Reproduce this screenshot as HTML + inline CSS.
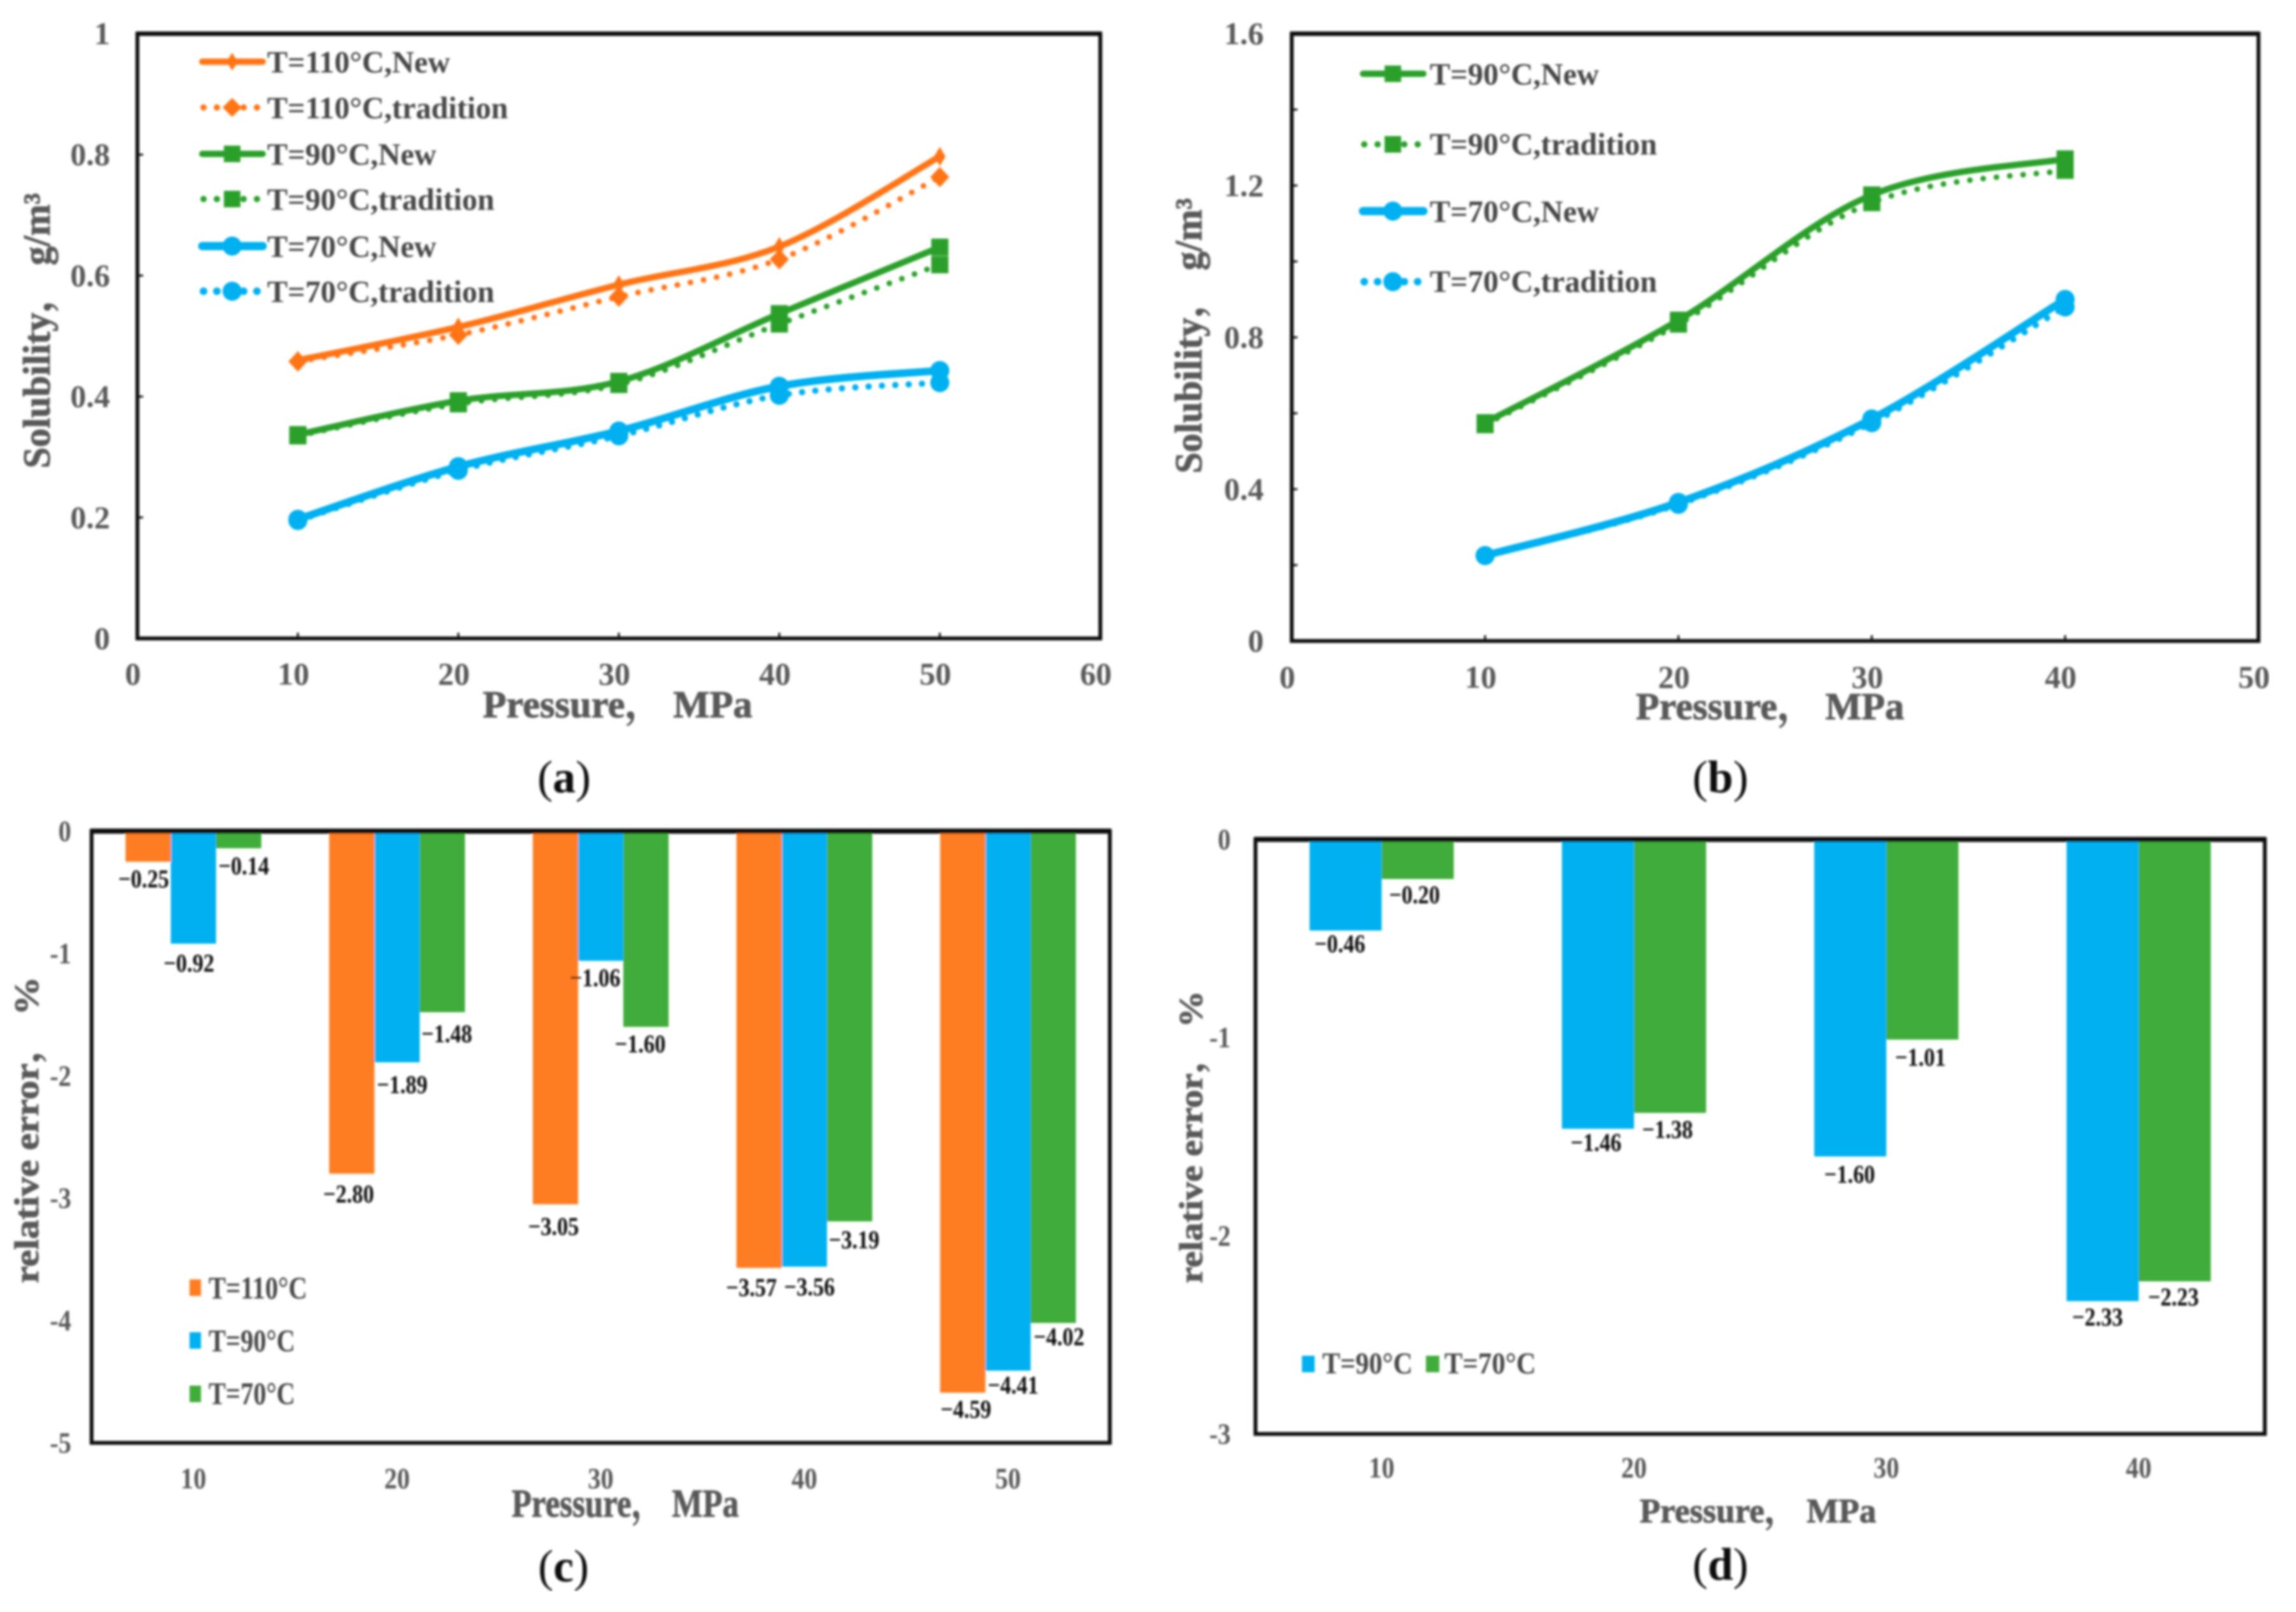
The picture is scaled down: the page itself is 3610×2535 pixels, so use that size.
<!DOCTYPE html>
<html lang="en">
<head>
<meta charset="utf-8">
<title>Solubility and relative error versus pressure</title>
<style>
html,body{margin:0;padding:0;background:#fff}
svg{display:block}
text{font-family:"Liberation Serif","Noto Serif CJK SC",serif;font-weight:bold;fill:#595959}
.leg{fill:#474747;font-size:48.4px}
.cap{fill:#111;font-weight:normal;font-size:72px;text-anchor:middle}
.cap tspan{font-weight:bold}
.ttl{font-size:60px;text-anchor:middle;stroke:#595959;stroke-width:1}
</style>
</head>
<body>
<svg id="figure" xmlns="http://www.w3.org/2000/svg" width="3610" height="2535" viewBox="0 0 3610 2535">
<defs><filter id="soft" x="0" y="0" width="100%" height="100%"><feGaussianBlur stdDeviation="1.8"/></filter></defs>
<rect width="3610" height="2535" fill="#fff"/>
<g filter="url(#soft)">

<g id="panel-a"></g>
<g id="panel-b"></g>
<g id="panel-c"></g>
<g id="panel-d"></g>

<!-- Panel A static text and legend -->
<text class="ttl" x="971" y="1128" textLength="424" lengthAdjust="spacingAndGlyphs">Pressure，&#160;MPa</text>
<text class="ttl" transform="translate(78,520) rotate(-90)" textLength="433" lengthAdjust="spacingAndGlyphs">Solubility，&#160;g/m³</text>
<g>
  <g><line x1="318" x2="413" y1="97" y2="97" stroke="#ff7519" stroke-width="10" stroke-linecap="round"/><polygon points="365,83 374,97 365,111 356,97" fill="#ff7519"/><text class="leg" x="420" y="114">T=110°C,New</text></g>
  <g><line x1="320" x2="412" y1="169" y2="169" stroke="#ff7519" stroke-width="10" stroke-linecap="round" stroke-dasharray="0 21"/><polygon points="365,154 380,169 365,184 350,169" fill="#ff7519"/><text class="leg" x="420" y="186">T=110°C,tradition</text></g>
  <g><line x1="318" x2="413" y1="242" y2="242" stroke="#2ca02c" stroke-width="10" stroke-linecap="round"/><rect x="352" y="229" width="26" height="26" fill="#2ca02c"/><text class="leg" x="420" y="259">T=90°C,New</text></g>
  <g><line x1="320" x2="412" y1="313" y2="313" stroke="#2ca02c" stroke-width="10" stroke-linecap="round" stroke-dasharray="0 21"/><rect x="352" y="300" width="26" height="26" fill="#2ca02c"/><text class="leg" x="420" y="330">T=90°C,tradition</text></g>
  <g><line x1="318" x2="413" y1="387" y2="387" stroke="#00b0f0" stroke-width="13" stroke-linecap="round"/><circle cx="365" cy="387" r="15" fill="#00b0f0"/><text class="leg" x="420" y="404">T=70°C,New</text></g>
  <g><line x1="320" x2="412" y1="458" y2="458" stroke="#00b0f0" stroke-width="12" stroke-linecap="round" stroke-dasharray="0 21"/><circle cx="365" cy="458" r="15" fill="#00b0f0"/><text class="leg" x="420" y="475">T=70°C,tradition</text></g>
</g>
<text class="cap" x="887" y="1246">(<tspan>a</tspan>)</text>

<!-- Panel B static text and legend -->
<text class="ttl" x="2783" y="1131" textLength="422" lengthAdjust="spacingAndGlyphs">Pressure，&#160;MPa</text>
<text class="ttl" transform="translate(1889,528) rotate(-90)" textLength="433" lengthAdjust="spacingAndGlyphs">Solubility，&#160;g/m³</text>
<g>
  <g><line x1="2143" x2="2238" y1="116" y2="116" stroke="#2ca02c" stroke-width="10" stroke-linecap="round"/><rect x="2177" y="103" width="26" height="26" fill="#2ca02c"/><text class="leg" x="2248" y="133">T=90°C,New</text></g>
  <g><line x1="2145" x2="2238" y1="227" y2="227" stroke="#2ca02c" stroke-width="10" stroke-linecap="round" stroke-dasharray="0 21"/><rect x="2177" y="214" width="26" height="26" fill="#2ca02c"/><text class="leg" x="2248" y="243">T=90°C,tradition</text></g>
  <g><line x1="2143" x2="2238" y1="332" y2="332" stroke="#00b0f0" stroke-width="13" stroke-linecap="round"/><circle cx="2190" cy="332" r="15" fill="#00b0f0"/><text class="leg" x="2248" y="349">T=70°C,New</text></g>
  <g><line x1="2145" x2="2238" y1="443" y2="443" stroke="#00b0f0" stroke-width="12" stroke-linecap="round" stroke-dasharray="0 21"/><circle cx="2190" cy="443" r="15" fill="#00b0f0"/><text class="leg" x="2248" y="459">T=70°C,tradition</text></g>
</g>
<text class="cap" x="2705" y="1246">(<tspan>b</tspan>)</text>

<!-- Panel C static text and legend -->
<text class="ttl" x="983" y="2385" style="font-size:62px" textLength="357" lengthAdjust="spacingAndGlyphs">Pressure，&#160;MPa</text>
<text class="ttl" transform="translate(60,1777) rotate(-90)" style="font-size:54px" textLength="482" lengthAdjust="spacingAndGlyphs">relative error，&#160;%</text>
<g>
  <g><rect x="298" y="2012" width="18" height="26" fill="#fe7d23"/><text class="leg" x="328" y="2042" textLength="155" lengthAdjust="spacingAndGlyphs" style="font-size:50px">T=110°C</text></g>
  <g><rect x="298" y="2095" width="18" height="26" fill="#00b0f0"/><text class="leg" x="328" y="2125" textLength="136" lengthAdjust="spacingAndGlyphs" style="font-size:50px">T=90°C</text></g>
  <g><rect x="298" y="2179" width="18" height="26" fill="#41ac3a"/><text class="leg" x="328" y="2208" textLength="136" lengthAdjust="spacingAndGlyphs" style="font-size:50px">T=70°C</text></g>
</g>
<text class="cap" x="886" y="2487">(<tspan>c</tspan>)</text>

<!-- Panel D static text and legend -->
<text class="ttl" x="2764" y="2394" style="font-size:54px" textLength="372" lengthAdjust="spacingAndGlyphs">Pressure，&#160;MPa</text>
<text class="ttl" transform="translate(1890,1788) rotate(-90)" style="font-size:52px" textLength="460" lengthAdjust="spacingAndGlyphs">relative error，&#160;%</text>
<g>
  <g><rect x="2047" y="2132" width="20" height="26" fill="#00b0f0"/><text class="leg" x="2079" y="2160" textLength="142" lengthAdjust="spacingAndGlyphs" style="font-size:48px">T=90°C</text></g>
  <g><rect x="2242" y="2132" width="21" height="26" fill="#41ac3a"/><text class="leg" x="2271" y="2160" textLength="144" lengthAdjust="spacingAndGlyphs" style="font-size:48px">T=70°C</text></g>
</g>
<text class="cap" x="2705" y="2484">(<tspan>d</tspan>)</text>
</g>
</svg>

<script>
// ---------- Panel A data ----------
const pressureA = [10, 20, 30, 40, 50];
const aT110New = [0.460, 0.515, 0.585, 0.648, 0.797];
const aT110Trad = [0.458, 0.502, 0.565, 0.627, 0.763];
const aT90New = [0.337, 0.393, 0.425, 0.537, 0.647];
const aT90Trad = [0.335, 0.388, 0.420, 0.520, 0.618];
const aT70New = [0.197, 0.284, 0.343, 0.417, 0.443];
const aT70Trad = [0.195, 0.278, 0.335, 0.402, 0.423];
const aXTicks = [0, 10, 20, 30, 40, 50, 60];
const aYTicks = [0, 0.2, 0.4, 0.6, 0.8, 1];

// ---------- Panel B data ----------
const pressureB = [10, 20, 30, 40];
const bT90New = [0.575, 0.845, 1.175, 1.270];
const bT90Trad = [0.570, 0.835, 1.155, 1.240];
const bT70New = [0.225, 0.365, 0.585, 0.900];
const bT70Trad = [0.225, 0.360, 0.575, 0.880];
const bXTicks = [0, 10, 20, 30, 40, 50];
const bYTicks = [0, 0.4, 0.8, 1.2, 1.6];
const bYMinorTicks = [0.2, 0.6, 1.0, 1.4];

// ---------- Panel C data ----------
const pressureC = ['10', '20', '30', '40', '50'];
const cT110 = [-0.25, -2.80, -3.05, -3.57, -4.59];
const cT90 = [-0.92, -1.89, -1.06, -3.56, -4.41];
const cT70 = [-0.14, -1.48, -1.60, -3.19, -4.02];
const cYTicks = [0, -1, -2, -3, -4, -5];

// ---------- Panel D data ----------
const pressureD = ['10', '20', '30', '40'];
const dT90 = [-0.46, -1.46, -1.60, -2.33];
const dT70 = [-0.20, -1.38, -1.01, -2.23];
const dYTicks = [0, -1, -2, -3];

const NS = 'http://www.w3.org/2000/svg';
const ORANGE = '#ff7519', GREEN = '#2ca02c', BLUE = '#00b0f0';

function mk(parent, tag, attrs) {
  const n = document.createElementNS(NS, tag);
  for (const k in attrs) n.setAttribute(k, attrs[k]);
  parent.appendChild(n);
  return n;
}
function mkText(parent, x, y, str, size, sx, anchor, fill) {
  const t = mk(parent, 'text', {
    transform: 'translate(' + x + ',' + (y + size * 0.33) + ') scale(' + sx + ',1)',
    'text-anchor': anchor,
    'font-size': size
  });
  if (fill) t.style.fill = fill;
  t.textContent = str;
  return t;
}
function smoothPath(pts) {
  let d = 'M' + pts[0][0] + ' ' + pts[0][1];
  for (let i = 0; i < pts.length - 1; i++) {
    const p0 = pts[Math.max(i - 1, 0)], p1 = pts[i], p2 = pts[i + 1], p3 = pts[Math.min(i + 2, pts.length - 1)];
    const k = 1 / 6;
    d += ' C' + (p1[0] + (p2[0] - p0[0]) * k) + ' ' + (p1[1] + (p2[1] - p0[1]) * k) + ' ' +
      (p2[0] - (p3[0] - p1[0]) * k) + ' ' + (p2[1] - (p3[1] - p1[1]) * k) + ' ' + p2[0] + ' ' + p2[1];
  }
  return d;
}
function drawMarker(parent, kind, x, y, color, big) {
  if (kind === 'diamond') {
    const hx = big ? 15 : 9, hy = big ? 16 : 15;
    return mk(parent, 'polygon', { points: x + ',' + (y - hy) + ' ' + (x + hx) + ',' + y + ' ' + x + ',' + (y + hy) + ' ' + (x - hx) + ',' + y, fill: color });
  }
  if (kind === 'square') return mk(parent, 'rect', { x: x - 13.5, y: y - 13.5, width: 27, height: 27, fill: color });
  return mk(parent, 'circle', { cx: x, cy: y, r: 15, fill: color });
}
function drawFrame(g, panel, box, top) {
  const frame = mk(g, 'rect', { x: box.l, y: box.t, width: box.r - box.l, height: box.b - box.t, fill: 'none', stroke: '#111', 'stroke-width': 6 });
  
  
  const topLine = mk(g, 'line', { x1: box.l - 2, x2: box.r + 2, y1: box.t, y2: box.t, stroke: '#111', 'stroke-width': top });
  
  
}

function drawLinePanel(panel, box, xMax, yMax, xs, series, xTicks, yTicks, yMinor, xFmt, yFmt, labelRight, xLabelY) {
  const g = document.getElementById('panel-' + panel);
  const xPos = v => box.l + (v / xMax) * (box.r - box.l);
  const yPos = v => box.b - (v / yMax) * (box.b - box.t);

  xTicks.forEach(v => {
    const tick = mk(g, 'line', { x1: xPos(v), x2: xPos(v), y1: box.b - 9, y2: box.b, stroke: '#111', 'stroke-width': 3 });
    
    
    const label = mkText(g, xPos(v) - 7, xLabelY, xFmt(v), 50, 1, 'middle');
    
    
  });
  yTicks.concat(yMinor).forEach(v => {
    const tick = mk(g, 'line', { x1: box.l, x2: box.l + 9, y1: yPos(v), y2: yPos(v), stroke: '#111', 'stroke-width': 3 });
    
    
  });
  yTicks.forEach(v => {
    const label = mkText(g, labelRight, yPos(v), yFmt(v), 50, 1, 'end');
    
    
  });

  series.forEach(s => {
    const pts = s.values.map((v, i) => [xPos(xs[i]), yPos(v)]);
    const sg = mk(g, 'g', {});
    
    
    const attrs = { d: smoothPath(pts), fill: 'none', stroke: s.color, 'stroke-width': s.width, 'stroke-linecap': 'round' };
    if (s.dotted) attrs['stroke-dasharray'] = '0 21';
    const path = mk(sg, 'path', attrs);
    
    
    pts.forEach(p => {
      const m = drawMarker(sg, s.marker, p[0], p[1], s.color, s.dotted);
      
      
    });
  });
  drawFrame(g, panel, box, 7);
}

function drawBarPanel(panel, box, yMin, cats, series, yTicks, opts) {
  const g = document.getElementById('panel-' + panel);
  const yPos = v => box.t + (v / yMin) * (box.b - box.t);
  const catW = (box.r - box.l) / cats.length;
  const barW = catW / (series.length + 1.5);

  cats.forEach((c, i) => {
    const label = mkText(g, box.l + catW * (i + 0.5), opts.catY, c, 47, 0.86, 'middle');
    
    
    series.forEach((s, j) => {
      const x = box.l + catW * (i + 0.5) + barW * (j - series.length / 2);
      const v = s.values[i];
      const bar = mk(g, 'rect', { x: x, y: box.t, width: barW, height: yPos(v) - box.t, fill: s.color });
      
      
      const vLabel = mkText(g, x + barW / 2 + opts.nudgeX[j][i], yPos(v) + opts.nudgeY[j][i], '\u2212' + Math.abs(v).toFixed(2), 40, 0.86, 'middle', '#111');
      
      
    });
  });
  yTicks.forEach(v => {
    const label = mkText(g, opts.labelRight, yPos(v), String(v), 47, 0.86, 'end');
    
    
  });
  drawFrame(g, panel, box, 8);
}

const fmtInt = v => String(v);
const fmtA = v => (v === 0 || v === 1) ? String(v) : v.toFixed(1);
const fmtB = v => v === 0 ? '0' : v.toFixed(1);

drawLinePanel('a', { l: 216, r: 1730, t: 53, b: 1004 }, 60, 1, pressureA, [
  { id: 't110-new', values: aT110New, color: ORANGE, width: 10, marker: 'diamond', dotted: false },
  { id: 't110-tradition', values: aT110Trad, color: ORANGE, width: 9, marker: 'diamond', dotted: true },
  { id: 't90-new', values: aT90New, color: GREEN, width: 10, marker: 'square', dotted: false },
  { id: 't90-tradition', values: aT90Trad, color: GREEN, width: 9, marker: 'square', dotted: true },
  { id: 't70-tradition', values: aT70Trad, color: BLUE, width: 10, marker: 'circle', dotted: true },
  { id: 't70-new', values: aT70New, color: BLUE, width: 12, marker: 'circle', dotted: false }
], aXTicks, aYTicks, [], fmtInt, fmtA, 173, 1060);

drawLinePanel('b', { l: 2031, r: 3551, t: 53, b: 1008 }, 50, 1.6, pressureB, [
  { id: 't90-new', values: bT90New, color: GREEN, width: 10, marker: 'square', dotted: false },
  { id: 't90-tradition', values: bT90Trad, color: GREEN, width: 9, marker: 'square', dotted: true },
  { id: 't70-tradition', values: bT70Trad, color: BLUE, width: 10, marker: 'circle', dotted: true },
  { id: 't70-new', values: bT70New, color: BLUE, width: 12, marker: 'circle', dotted: false }
], bXTicks, bYTicks, bYMinorTicks, fmtInt, fmtB, 1987, 1065);

drawBarPanel('c', { l: 144, r: 1745, t: 1307, b: 2269 }, -5, pressureC, [
  { id: 't110', values: cT110, color: '#fe7d23' },
  { id: 't90', values: cT90, color: '#00b0f0' },
  { id: 't70', values: cT70, color: '#41ac3a' }
], cYTicks, {
  catY: 2325,
  labelRight: 112,
  nudgeX: [[-7, -5, -3, -12, 5], [-7, 8, -9, 8, 8], [8, 7, -9, 7, 9]],
  nudgeY: [[27, 32, 35, 31, 26], [31, 35, 27, 32, 23], [28, 34, 27, 29, 22]]
});

drawBarPanel('d', { l: 1974, r: 3561, t: 1320, b: 2255 }, -3, pressureD, [
  { id: 't90', values: dT90, color: '#00b0f0' },
  { id: 't70', values: dT70, color: '#41ac3a' }
], dYTicks, {
  catY: 2308,
  labelRight: 1935,
  nudgeX: [[-9, -3, -1, -8], [-5, -4, -3, -2]],
  nudgeY: [[21, 22, 28, 25], [25, 26, 28, 25]]
});
</script>
</body>
</html>
